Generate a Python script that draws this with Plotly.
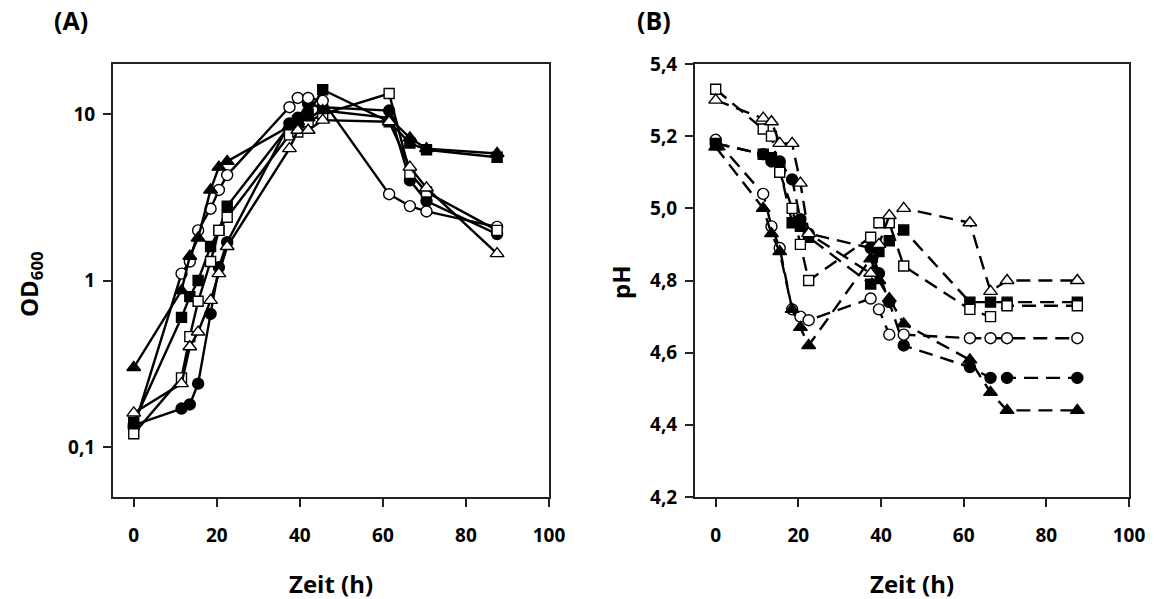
import plotly.graph_objects as go

# Sampling times (h)
t_hours = [0, 11.5, 13.5, 15.5, 18.5, 20.5, 22.5, 37.5, 39.5, 42, 45.5, 61.5, 66.5, 70.5, 87.5]

# Optical density (OD600), six cultures
od_filled_circle = [0.135, 0.17, 0.18, 0.24, 0.63, 1.2, 1.7, 8.8, 9.5, 11.5, 11.0, 10.5, 4.0, 3.0, 1.9]
od_open_circle = [0.13, 1.1, 1.3, 2.0, 2.7, 3.5, 4.3, 11.0, 12.5, 12.5, 12.0, 3.3, 2.8, 2.6, 2.1]
od_filled_square = [0.14, 0.6, 0.8, 1.0, 1.6, 2.0, 2.8, 8.5, 9.0, 10.0, 14.0, 9.0, 6.7, 6.1, 5.5]
od_open_square = [0.12, 0.26, 0.46, 0.75, 1.3, 2.0, 2.4, 7.5, 7.8, 9.0, 10.0, 13.3, 4.4, 3.4, 2.0]
od_filled_triangle = [0.30, 0.87, 1.4, 1.8, 3.5, 4.8, 5.2, 8.5, 9.0, 9.5, 10.5, 9.5, 7.2, 6.2, 5.8]
od_open_triangle = [0.16, 0.24, 0.40, 0.49, 0.76, 1.1, 1.6, 6.2, 8.0, 8.0, 9.2, 9.0, 4.8, 3.6, 1.45]

# pH, same cultures
ph_filled_circle = [5.18, 5.15, 5.13, 5.13, 5.08, 4.97, 4.93, 4.89, 4.82, 4.74, 4.62, 4.56, 4.53, 4.53, 4.53]
ph_open_circle = [5.19, 5.04, 4.95, 4.89, 4.72, 4.70, 4.69, 4.75, 4.72, 4.65, 4.65, 4.64, 4.64, 4.64, 4.64]
ph_filled_square = [5.18, 5.15, 5.14, 5.11, 4.96, 4.95, 4.92, 4.79, 4.88, 4.91, 4.94, 4.74, 4.74, 4.74, 4.74]
ph_open_square = [5.33, 5.22, 5.20, 5.10, 5.00, 4.90, 4.80, 4.92, 4.96, 4.96, 4.84, 4.72, 4.70, 4.73, 4.73]
ph_filled_triangle = [5.17, 5.00, 4.93, 4.88, 4.72, 4.67, 4.62, 4.86, 4.80, 4.75, 4.68, 4.58, 4.49, 4.44, 4.44]
ph_open_triangle = [5.30, 5.25, 5.24, 5.18, 5.18, 5.07, 4.93, 4.82, 4.90, 4.98, 5.00, 4.96, 4.77, 4.80, 4.80]

x_ticks = [0, 20, 40, 60, 80, 100]
od_ticks = [0.1, 1, 10]
od_ticktext = ["0,1", "1", "10"]
ph_ticks = [4.2, 4.4, 4.6, 4.8, 5.0, 5.2, 5.4]
ph_ticktext = ["4,2", "4,4", "4,6", "4,8", "5,0", "5,2", "5,4"]

styles = [
    ("circle", "black", 11),
    ("circle", "white", 11),
    ("square", "black", 10),
    ("square", "white", 10),
    ("triangle-up", "black", 12),
    ("triangle-up", "white", 12),
]
od_series = [od_filled_circle, od_open_circle, od_filled_square,
             od_open_square, od_filled_triangle, od_open_triangle]
ph_series = [ph_filled_circle, ph_open_circle, ph_filled_square,
             ph_open_square, ph_filled_triangle, ph_open_triangle]

FONT = "Open Sans"
fig = go.Figure()

for (sym, fill, size), od in zip(styles, od_series):
    fig.add_trace(go.Scatter(
        x=t_hours, y=od, xaxis="x", yaxis="y", mode="lines+markers",
        line=dict(color="black", width=2.4),
        marker=dict(symbol=sym, size=size, color=fill,
                    line=dict(color="black", width=1.4)),
        showlegend=False,
    ))

for (sym, fill, size), ph in zip(styles, ph_series):
    fig.add_trace(go.Scatter(
        x=t_hours, y=ph, xaxis="x2", yaxis="y2", mode="lines+markers",
        line=dict(color="black", width=2.4, dash="14px,8px"),
        marker=dict(symbol=sym, size=size, color=fill,
                    line=dict(color="black", width=1.4)),
        showlegend=False,
    ))

W, H = 1154, 599
xa_dom = [113 / W, 549 / W]
xb_dom = [695 / W, 1129 / W]
y_dom = [(H - 497) / H, (H - 64) / H]

axis_common = dict(
    showline=True, linecolor="#222", linewidth=2, mirror=True,
    ticks="outside", ticklen=8, tickwidth=1.5, tickcolor="#222",
    showgrid=False, zeroline=False, automargin=False,
    tickfont=dict(family=FONT, size=19, color="black", weight="bold"),
)

fig.update_layout(
    width=W, height=H,
    margin=dict(l=0, r=0, t=0, b=0, pad=0),
    paper_bgcolor="white", plot_bgcolor="white",
    xaxis=dict(domain=xa_dom, range=[-5, 100], tickvals=x_ticks,
               anchor="y", ticklabelstandoff=12, **axis_common),
    yaxis=dict(domain=y_dom, type="log", range=[-1.301, 1.301],
               tickvals=od_ticks, ticktext=od_ticktext, anchor="x",
               ticklabelstandoff=4, **axis_common),
    xaxis2=dict(domain=xb_dom, range=[-5, 100], tickvals=x_ticks,
                anchor="y2", ticklabelstandoff=12, **axis_common),
    yaxis2=dict(domain=y_dom, range=[4.2, 5.4], tickvals=ph_ticks,
                ticktext=ph_ticktext, anchor="x2",
                ticklabelstandoff=4, **axis_common),
)

title_font = dict(family=FONT, size=24, color="black", weight="bold")
panel_font = dict(family=FONT, size=25, color="black", weight="bold")

annotations = [
    dict(text="Zeit (h)", x=(xa_dom[0] + xa_dom[1]) / 2, y=1 - 583 / H,
         font=title_font),
    dict(text="Zeit (h)", x=(xb_dom[0] + xb_dom[1]) / 2, y=1 - 583 / H,
         font=title_font),
    dict(text="OD<sub>600</sub>", x=30 / W, y=1 - 284 / H, textangle=-90,
         font=title_font),
    dict(text="pH", x=620 / W, y=1 - 282 / H, textangle=-90,
         font=title_font),
    dict(text="(A)", x=71 / W, y=1 - 20 / H, font=panel_font),
    dict(text="(B)", x=654 / W, y=1 - 20 / H, font=panel_font),
]
for a in annotations:
    fig.add_annotation(xref="paper", yref="paper", showarrow=False,
                       xanchor="center", yanchor="middle", **a)

fig.write_html("out.html")
